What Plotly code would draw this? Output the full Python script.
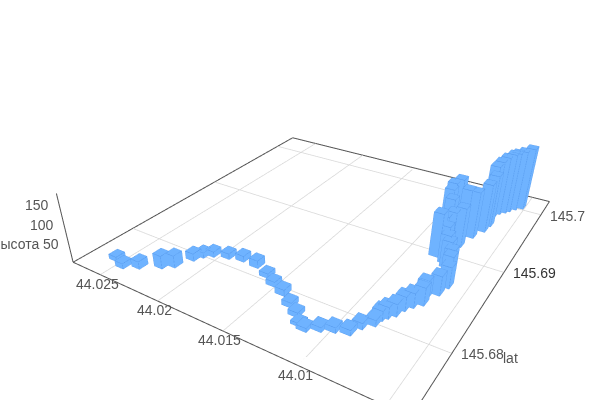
import numpy as np
import plotly.graph_objects as go

lon = [44.0256,44.0246,44.0237,44.0225,44.0219,44.0214,44.0211,44.0206,44.0196,44.0186,44.0174,44.0162,44.0153,44.0143,44.0133,44.0125,44.0119,44.0114,44.0107,44.0100,44.0092,44.0089,44.0084,44.0083,44.0081,44.0078,44.0076,44.0073,44.0069,44.0070,44.0065,44.0063,44.0065,44.0067,44.0071,44.0074,44.0077,44.0082,44.0081,44.0078,44.0074,44.0076,44.0071,44.0067,44.0066,44.0069,44.0068,44.0066,44.0063,44.0061,44.0058,44.0054,44.0084,44.0088,44.0089,44.0086]
lat = [145.6764,145.6760,145.6766,145.6775,145.6781,145.6795,145.6802,145.6807,145.6811,145.6814,145.6813,145.6807,145.6801,145.6796,145.6788,145.6782,145.6775,145.6773,145.6778,145.6782,145.6785,145.6794,145.6801,145.6808,145.6812,145.6817,145.6825,145.6831,145.6837,145.6844,145.6853,145.6864,145.6872,145.6880,145.6887,145.6892,145.6898,145.6897,145.6906,145.6912,145.6919,145.6934,145.6937,145.6951,145.6962,145.6972,145.6979,145.6986,145.6991,145.6995,145.7001,145.7006,145.6925,145.6934,145.6942,145.6948]
height = [12,14,20,34,32,20,15,15,15,16,20,12,13,16,13,12,8,10,12,14,14,16,16,26,30,32,37,38,46,46,50,55,65,65,70,75,85,115,95,100,105,130,125,130,140,150,155,160,165,165,165,170,110,120,125,130]

lon_ticks = [44.025,44.02,44.015,44.01,44.005]
lon_labels = ["44.025","44.02","44.015","44.01","44.005"]
lat_ticks = [145.68,145.69,145.7]
lat_labels = ["145.68","145.69","145.7"]
z_ticks = [50,100,150]
FRAME_LON = [44.0276, 44.0037]
FRAME_LAT = [145.6742, 145.7028]
Z_TOP = 178
LON_RANGE = [44.0280, 44.0033]
LAT_RANGE = [145.67380, 145.70320]
Z_RANGE = [-2, 179]
HALF_LON, HALF_LAT = 0.00034, 0.00043
ASPECT_X = 1.0165
ASPECT_Y = 1.09

vx, vy, vz, ti, tj, tk, ex, ey, ez = [], [], [], [], [], [], [], [], []
quads = [(0,1,2,3),(4,5,6,7),(0,1,5,4),(1,2,6,5),(2,3,7,6),(3,0,4,7)]
edges = [(0,1),(1,2),(2,3),(3,0),(4,5),(5,6),(6,7),(7,4),(0,4),(1,5),(2,6),(3,7)]
for n,(a,b,h) in enumerate(zip(lon,lat,height)):
    cx = [a-HALF_LON,a+HALF_LON,a+HALF_LON,a-HALF_LON]*2
    cy = [b-HALF_LAT,b-HALF_LAT,b+HALF_LAT,b+HALF_LAT]*2
    cz = [0]*4+[h]*4
    o = len(vx)
    vx += cx; vy += cy; vz += cz
    for q in quads:
        ti += [o+q[0],o+q[0]]; tj += [o+q[1],o+q[2]]; tk += [o+q[2],o+q[3]]
    for e in edges:
        ex += [cx[e[0]],cx[e[1]],None]; ey += [cy[e[0]],cy[e[1]],None]; ez += [cz[e[0]],cz[e[1]],None]

fig = go.Figure()
fig.add_trace(go.Mesh3d(x=vx,y=vy,z=vz,i=ti,j=tj,k=tk,color="#6fb3ff",flatshading=True,
    lighting=dict(ambient=1,diffuse=0,specular=0,fresnel=0),hoverinfo="skip"))
fig.add_trace(go.Scatter3d(x=ex,y=ey,z=ez,mode="lines",line=dict(color="#4f93e8",width=1),hoverinfo="skip"))

x0,x1=FRAME_LON; y0,y1=FRAME_LAT; z0=0
gx,gy=[],[]
for t in lon_ticks:
    gx+=[t,t,None]; gy+=[y0,y1,None]
for t in lat_ticks:
    gx+=[x0,x1,None]; gy+=[t,t,None]
fig.add_trace(go.Scatter3d(x=gx,y=gy,z=[z0 if v is not None else None for v in gx],mode="lines",line=dict(color="#d8d8d8",width=1.5),hoverinfo="skip"))
for (xa,ya,xb,yb) in [(x0,y0,x0,y1),(x0,y1,x1,y1),(x1,y1,x1,y0),(x1,y0,x0,y0)]:
    fig.add_trace(go.Scatter3d(x=np.linspace(xa,xb,40),y=np.linspace(ya,yb,40),z=[z0]*40,mode="lines",line=dict(color="#555",width=2),hoverinfo="skip"))
fig.add_trace(go.Scatter3d(x=[x0]*20,y=[y0]*20,z=np.linspace(0,Z_TOP,20),mode="lines",line=dict(color="#555",width=2),hoverinfo="skip"))

tf=dict(family="Liberation Sans",size=14,color="#555")
tfd=dict(family="Liberation Sans",size=14,color="#333")
ax = dict(showbackground=False,showgrid=False,zeroline=False,showline=False,showticklabels=False,
          showspikes=False,ticks="",title=dict(text=""))
ann=[]
for t,l in zip(lon_ticks,lon_labels):
    ann.append(dict(x=t,y=y0,z=0,text=l,showarrow=False,xanchor="center",yanchor="middle",xshift=-3,yshift=-9,font=tf))
for t,l in zip(lat_ticks,lat_labels):
    ann.append(dict(x=x1,y=t,z=0,text=l,showarrow=False,xanchor="left",yanchor="middle",xshift=7,yshift=-1,font=tfd if l=="145.69" else tf))
for t in z_ticks:
    ann.append(dict(x=x0,y=y0,z=t,text=str(t),showarrow=False,xanchor="right",yanchor="middle",xshift=-8,font=tf))
ann.append(dict(x=x1,y=lat_ticks[0],z=0,text="lat",showarrow=False,xanchor="left",yanchor="middle",xshift=49,yshift=-5,font=tf))
ann.append(dict(x=x0,y=y0,z=z_ticks[0],text="высота",showarrow=False,xanchor="right",yanchor="middle",xshift=-28,font=tf))

fig.update_layout(width=600,height=494,margin=dict(l=0,r=0,t=0,b=0),showlegend=False,
    paper_bgcolor="white",
    scene=dict(
        domain=dict(x=[0,1],y=[0,1]),
        xaxis=dict(ax,range=LON_RANGE,tickvals=lon_ticks),
        yaxis=dict(ax,range=LAT_RANGE,tickvals=lat_ticks),
        zaxis=dict(ax,range=Z_RANGE,tickvals=z_ticks),
        aspectmode="manual",aspectratio=dict(x=ASPECT_X,y=ASPECT_Y,z=0.21),
        camera=dict(eye=dict(x=0.750,y=-1.3135,z=0.7846),center=dict(x=-0.062,y=-0.073,z=-0.147),up=dict(x=-0.010,y=-0.0066,z=1)),
        annotations=ann,
    ))
fig.write_html("out.html",config=dict(displayModeBar=False),post_script="document.documentElement.style.overflow='hidden';document.body.style.overflow='hidden';document.body.style.margin='0';")
